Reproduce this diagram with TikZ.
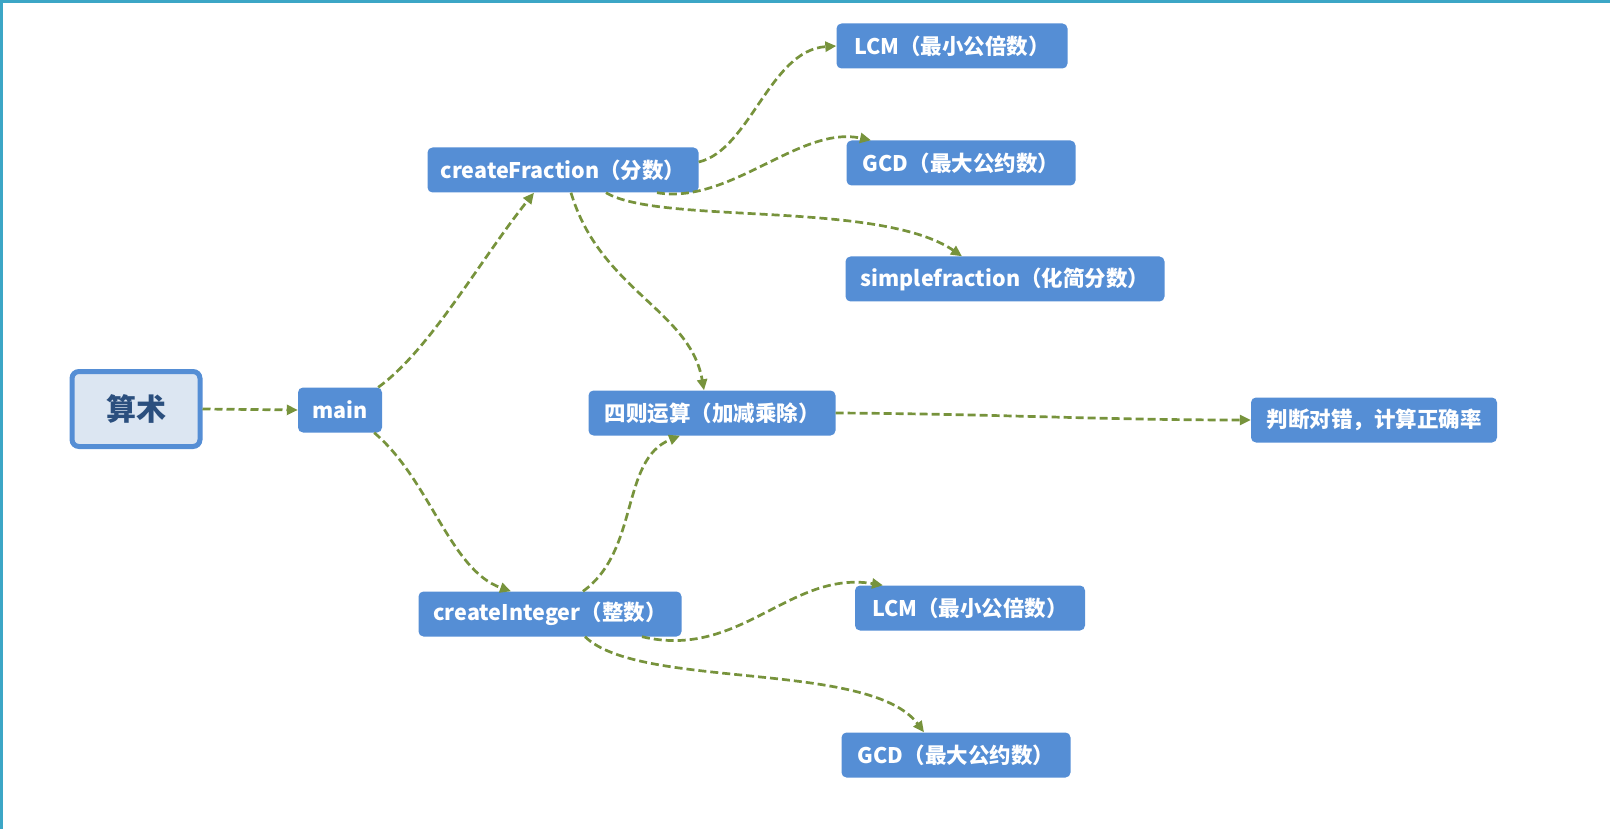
\documentclass[tikz,border=0pt]{standalone}
\usepackage{fontspec}
\setmainfont{Noto Sans CJK SC}
\usetikzlibrary{arrows.meta}
\definecolor{boxblue}{HTML}{558ED5}
\definecolor{rootfill}{HTML}{DCE6F2}
\definecolor{roottext}{HTML}{2B4F7E}
\definecolor{linkgreen}{HTML}{77933C}
\definecolor{framecol}{HTML}{3CA6C6}
\begin{document}
\begin{tikzpicture}[x=1pt,y=-1pt,
    box/.style={draw=none, fill=boxblue, rounded corners=5pt, text=white,
        font=\fontsize{21.5}{24}\selectfont\bfseries, minimum height=45pt, inner sep=0pt},
    rootbox/.style={draw=boxblue, line width=5pt, fill=rootfill, rounded corners=7pt, text=roottext,
        font=\fontsize{30}{32}\selectfont\bfseries, minimum width=128pt, minimum height=75pt},
    link/.style={draw=linkgreen, line width=2.7pt, dash pattern=on 8pt off 4pt,
        -{Triangle[length=11pt,width=10pt]}}]
    \useasboundingbox (0,0) rectangle (1610,829);
    \draw [framecol, line width=3pt] (0,2) -- (1610,2);
    \draw [framecol, line width=3pt] (1.5,0) -- (1.5,829);

    \node [rootbox] (root) at (136,409) {算术};
    \node [box, minimum width=84pt] (main) at (340,410) {main};
    \node [box, minimum width=271pt] (frac) at (563,170) {createFraction（分数）};
    \node [box, minimum width=231pt] (lcmA) at (952,46) {LCM（最小公倍数）};
    \node [box, minimum width=229pt] (gcdA) at (961,163) {GCD（最大公约数）};
    \node [box, minimum width=319pt] (simp) at (1005,279) {simplefraction（化简分数）};
    \node [box, minimum width=247pt] (calc) at (712,413) {四则运算（加减乘除）};
    \node [box, minimum width=246pt] (judge) at (1374,420) {判断对错，计算正确率};
    \node [box, minimum width=263pt] (int) at (550,614) {createInteger（整数）};
    \node [box, minimum width=230pt] (lcmB) at (970,608) {LCM（最小公倍数）};
    \node [box, minimum width=229pt] (gcdB) at (956,755) {GCD（最大公约数）};

    \draw [link] (root.east) -- (main.west);
    \draw [link] ([xshift=-4pt]main.north east) .. controls (430,350) and (480,260) .. ([xshift=-29pt]frac.south);
    \draw [link] ([xshift=-8pt]main.south east) .. controls (430,480) and (450,570) .. ([xshift=-39pt]int.north);

    \draw [link] ([yshift=8pt]frac.east) .. controls (750,150) and (770,50) .. (lcmA.west);
    \draw [link] ([xshift=94pt]frac.south) .. controls (730,205) and (800,125) .. ([xshift=-90pt]gcdA.north);
    \draw [link] ([xshift=43pt]frac.south) .. controls (660,225) and (880,200) .. ([xshift=-43pt]simp.north);
    \draw [link] ([xshift=8pt]frac.south) .. controls (600,290) and (690,310) .. ([xshift=-8pt]calc.north);

    \draw [link] ([xshift=33pt]int.north) .. controls (640,550) and (620,460) .. ([xshift=-32pt]calc.south);
    \draw [link] (calc.east) .. controls (1000,414) and (1100,420) .. (judge.west);

    \draw [link] ([xshift=92pt]int.south) .. controls (740,660) and (790,570) .. ([xshift=-87pt]lcmB.north);
    \draw [link] ([xshift=35pt]int.south) .. controls (640,690) and (870,660) .. ([xshift=-32pt]gcdB.north);
\end{tikzpicture}
\end{document}
